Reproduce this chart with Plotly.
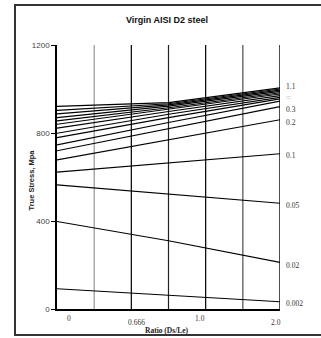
import plotly.graph_objects as go

# Data
ratio_pos = [0, 3, 6]          # positions on the (evenly divided) ratio axis
series = [
    [921, 938, 1005],
    [903, 933, 1000],
    [887, 928, 995],
    [870, 922, 989],
    [855, 915, 983],
    [840, 908, 977],
    [822, 898, 970],
    [799, 885, 962],
    [779, 870, 955],
    [746, 848, 945],
    [719, 820, 920],
    [678, 770, 860],
    [622, 665, 706],
    [564, 523, 481],
    [398, 310, 212],
    [92, 62, 33],
]
right_labels = ["1.1", "0.3", "0.2", "0.1", "0.05", "0.02", "0.002"]
right_label_y = [1010, 909, 850, 700, 470, 198, 24]
x_tick_text = ["0", "0.666", "1.0", "2.0"]
x_tick_px = [65, 136, 207, 283]
x_tick_py = [318, 322, 318, 322]
y_ticks = [0, 400, 800, 1200]

fig = go.Figure()
for vals in series:
    fig.add_trace(go.Scatter(x=ratio_pos, y=vals, mode="lines",
                             line=dict(color="black", width=1.1),
                             showlegend=False, hoverinfo="skip"))

W, H = 321, 338
L, R, T, B = 57, 41, 45, 29
pw, ph = W - L - R, H - T - B

def px_to_paper_y(py):
    return (H - B - py) / ph

def px_to_paper_x(px):
    return (px - L) / pw

# vertical grid lines
grid_cols = [(1, "#808080", 1), (2, "#000000", 1.2), (3, "#222222", 1.2),
             (4, "#000000", 1.2), (5, "#666666", 1.4), (6, "#000000", 1.4)]
for gx, col, w in grid_cols:
    fig.add_shape(type="line", x0=gx, x1=gx, y0=0, y1=1, xref="x", yref="paper",
                  line=dict(color=col, width=w), layer="below")

# outer border
fig.add_shape(type="rect", xref="paper", yref="paper",
              x0=px_to_paper_x(15), x1=px_to_paper_x(323),
              y0=px_to_paper_y(335), y1=px_to_paper_y(5),
              line=dict(color="#333333", width=2))

ann = []
# right labels
for lab, yv in zip(right_labels, right_label_y):
    ann.append(dict(x=px_to_paper_x(284), y=yv, xref="paper", yref="y", text=lab,
                    showarrow=False, xanchor="left",
                    font=dict(family="Liberation Serif", size=7.5, color="#333")))
ann.append(dict(x=px_to_paper_x(284), y=965, xref="paper", yref="y", text=":::",
                showarrow=False, xanchor="left",
                font=dict(family="Liberation Serif", size=6, color="#999")))
# x tick labels
for t, px, py in zip(x_tick_text, x_tick_px, x_tick_py):
    ann.append(dict(x=px_to_paper_x(px), y=px_to_paper_y(py), xref="paper", yref="paper",
                    text=t, showarrow=False, yanchor="middle",
                    font=dict(family="Liberation Serif", size=7.5, color="#333")))
# axis titles
ann.append(dict(x=px_to_paper_x(167), y=px_to_paper_y(330), xref="paper", yref="paper",
                text="<b>Ratio (Ds/Le)</b>", showarrow=False, yanchor="middle",
                font=dict(family="Liberation Serif", size=7.5, color="#222")))
ann.append(dict(x=px_to_paper_x(24), y=px_to_paper_y(180), xref="paper", yref="paper",
                text="<b>True Stress, Mpa</b>", showarrow=False, textangle=-90,
                font=dict(family="Liberation Sans", size=7.5, color="#222")))
ann.append(dict(x=px_to_paper_x(167), y=px_to_paper_y(20), xref="paper", yref="paper",
                text="<b>Virgin AISI D2 steel</b>", showarrow=False, yanchor="middle",
                font=dict(family="Liberation Sans", size=9, color="#111")))

fig.update_layout(
    width=W, height=H,
    margin=dict(l=L, r=R, t=T, b=B),
    paper_bgcolor="white", plot_bgcolor="white",
    annotations=ann,
    xaxis=dict(range=[0, 6], showgrid=False, zeroline=False, showticklabels=False,
               showline=True, linecolor="black", linewidth=1.5, ticks=""),
    yaxis=dict(range=[0, 1200], tickvals=y_ticks, showgrid=False, zeroline=False,
               showline=True, linecolor="black", linewidth=1.5,
               ticks="outside", ticklen=4, tickcolor="black",
               tickfont=dict(family="Liberation Sans", size=8, color="#444")),
)

fig.write_html("out.html", config={"displayModeBar": False},
               post_script="document.body.style.margin='0';document.body.style.overflow='hidden';")
